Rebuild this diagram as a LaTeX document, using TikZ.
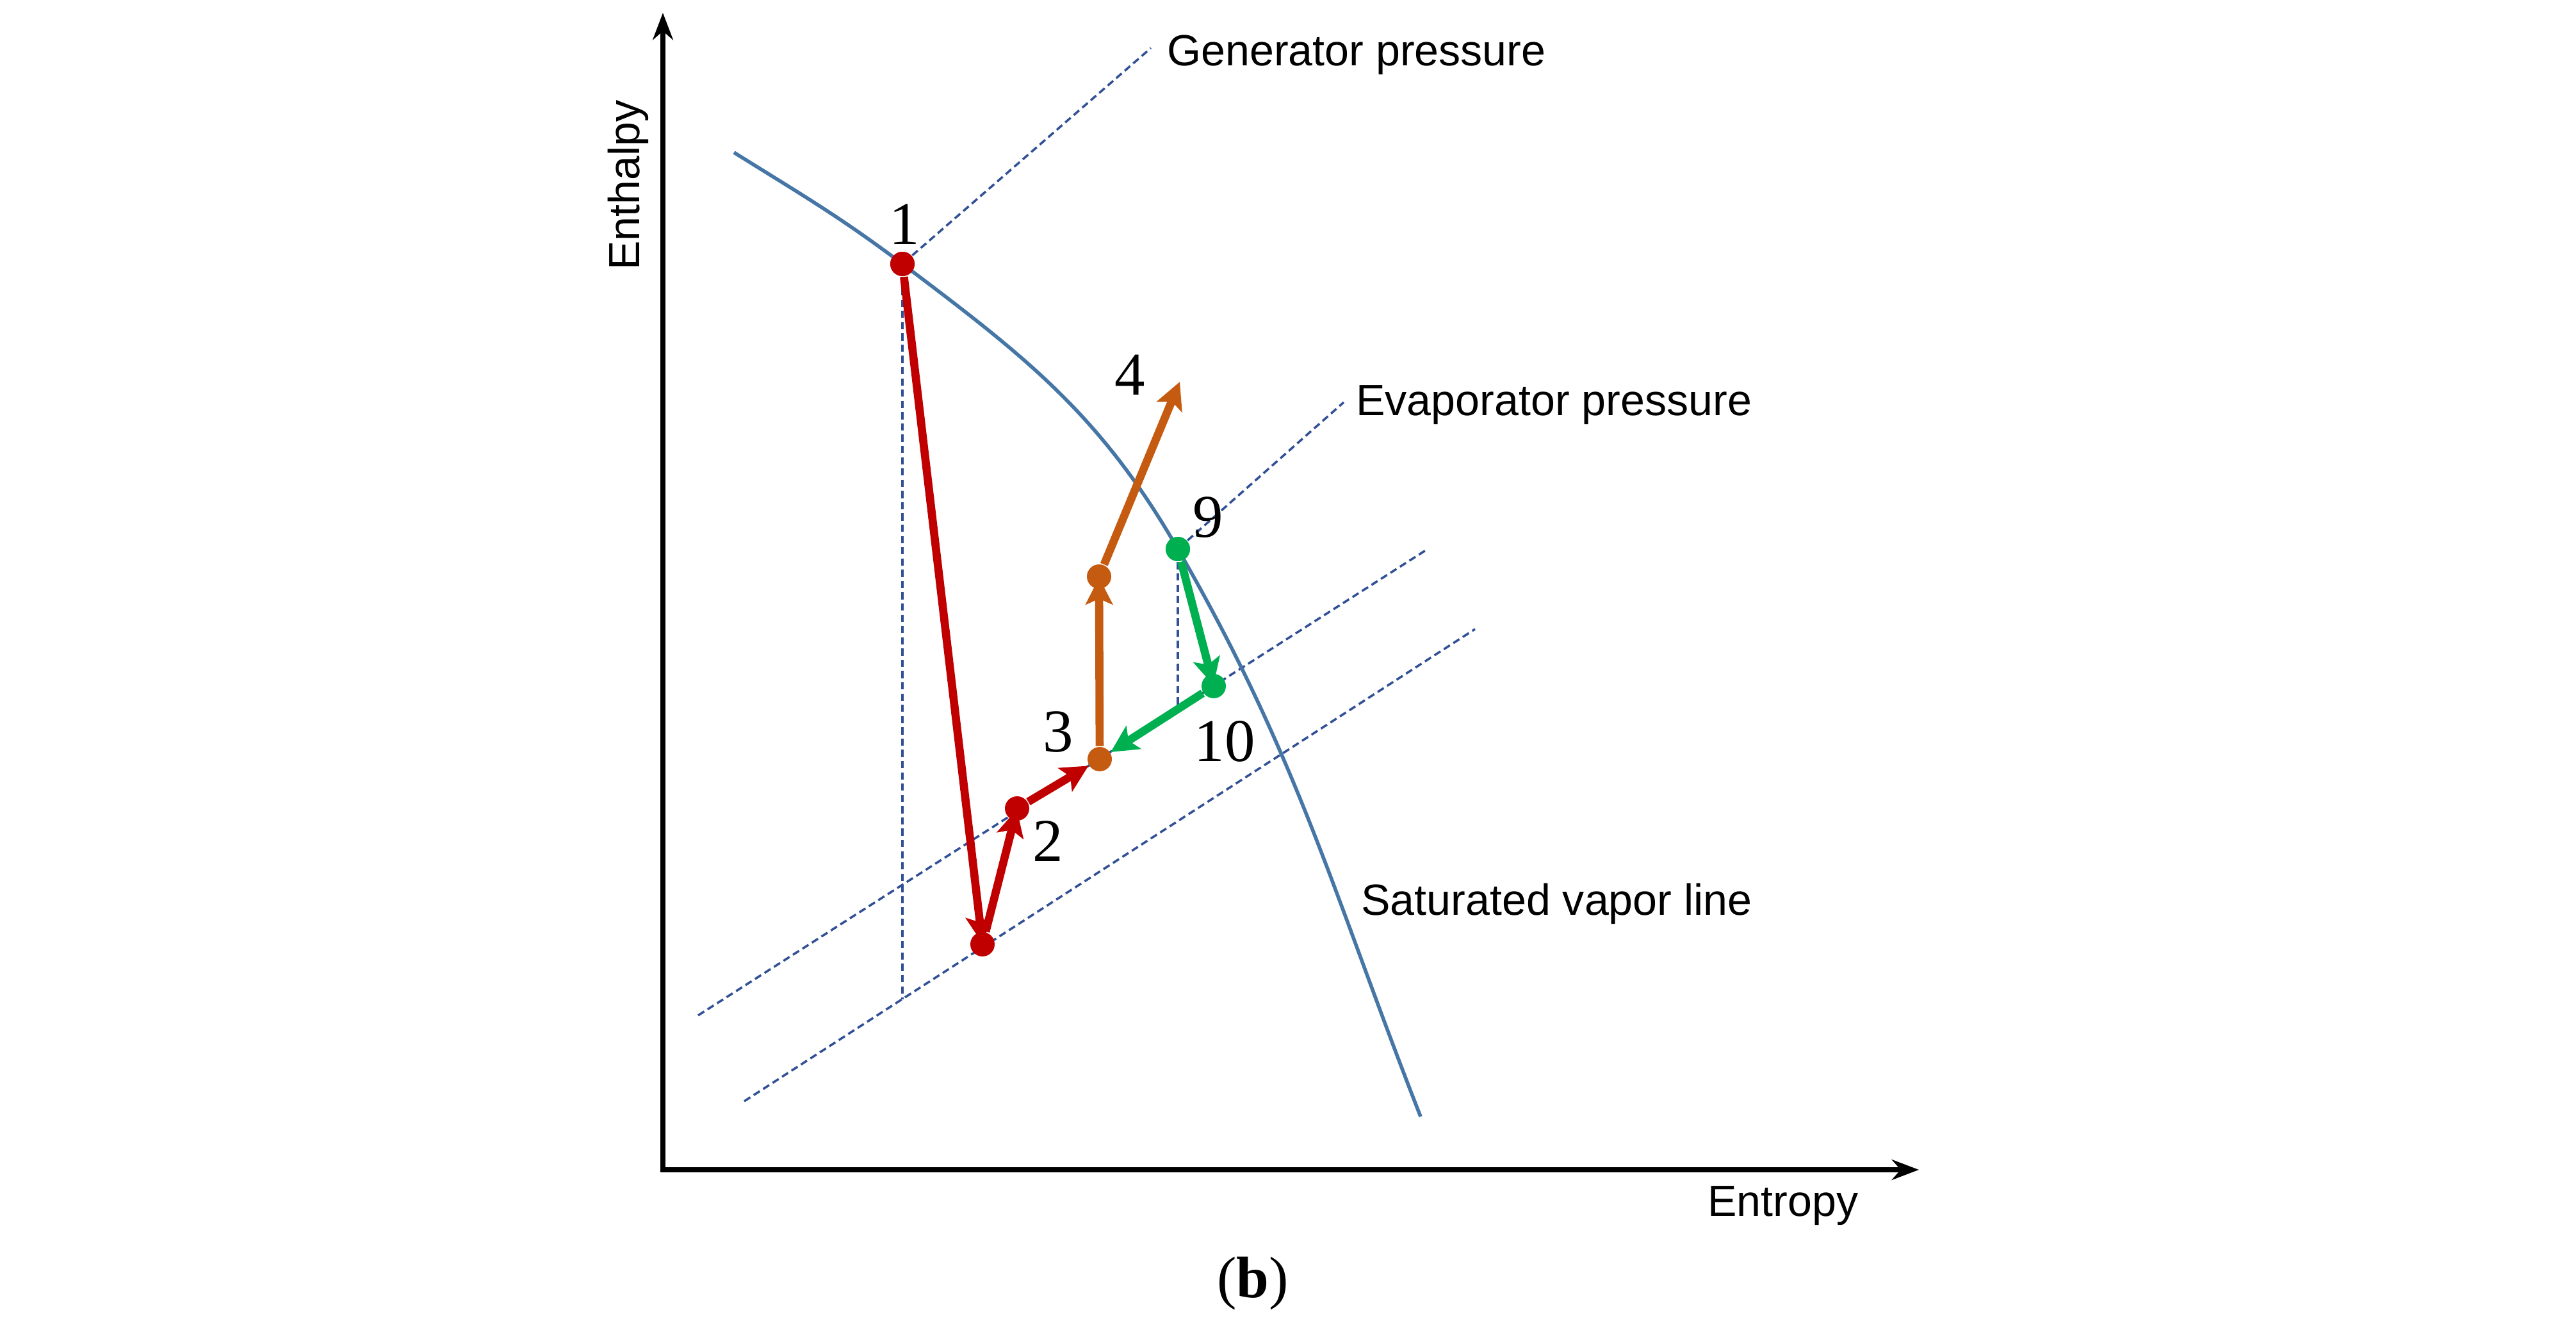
\documentclass[tikz,border=0pt]{standalone}
\usepackage{fontspec}
\setmainfont{Liberation Serif}
\newfontfamily\labelfont{Liberation Sans}
\usetikzlibrary{arrows.meta,positioning}

\definecolor{cyclered}{RGB}{192,0,0}
\definecolor{cycleorange}{RGB}{197,90,17}
\definecolor{cyclegreen}{RGB}{0,176,80}
\definecolor{satblue}{RGB}{70,118,165}
\definecolor{guideblue}{RGB}{50,80,150}

\begin{document}
\begin{tikzpicture}[>={Stealth[length=6pt,width=6pt,inset=1.3pt]},
    every node/.style={inner sep=0pt},
    dot/.style={circle, minimum size=0.19cm},
    flow/.style={line width=1.8pt, ->},
    guide/.style={draw=guideblue, line width=0.5pt, dash pattern=on 1.6pt off 0.9pt},
    num/.style={font=\fontsize{13.5}{16}\selectfont},
    axlabel/.style={font=\labelfont\fontsize{9.7}{11.6}\selectfont}]
  \useasboundingbox (0,0) rectangle (20.11,-10.365);

  % axes
  \coordinate (o) at (5.175,-9.13);
  \coordinate (ytop) at (5.175,-0.1);
  \coordinate (xend) at (14.98,-9.13);
  \draw[line width=1pt, {Stealth[length=6pt,width=4.5pt]}-{Stealth[length=6pt,width=4.5pt]}] (ytop) -- (o) -- (xend);
  \node[axlabel, rotate=90, anchor=base west] (hlab) at (4.99,-2.115) {Enthalpy};
  \node[axlabel, anchor=base west] (slab) at (13.325,-9.49) {Entropy};

  % evaporator pressure lines
  \coordinate (evapa1) at (5.45,-7.925);
  \coordinate (evapa2) at (11.13,-4.295);
  \coordinate (evapb1) at (5.81,-8.595);
  \coordinate (evapb2) at (11.515,-4.91);
  \draw[guide] (evapa1) -- (evapa2);
  \draw[guide] (evapb1) -- (evapb2);

  % state points
  \coordinate (satstart) at (5.73,-1.19);
  \coordinate (satend) at (11.09,-8.715);
  \node[dot, fill=cyclered] (p1) at (7.045,-2.06) {};
  \node[dot, fill=cyclered] (pb) at (7.67,-7.37) {};
  \node[dot, fill=cyclered] (p2) at (7.94,-6.31) {};
  \node[dot, fill=cycleorange] (p3) at (8.585,-5.925) {};
  \node[dot, fill=cycleorange] (pm) at (8.58,-4.50) {};
  \coordinate (p4) at (9.21,-2.98);
  \node[dot, fill=cyclegreen] (p9) at (9.195,-4.285) {};
  \node[dot, fill=cyclegreen] (p10) at (9.475,-5.355) {};

  % saturated vapor line
  \draw[satblue, line width=0.8pt] (satstart) to[out=-32, in=143] (p1.center)
    to[out=-37, in=120] (p9.center) to[out=-60, in=111.4] (satend);
  \node[axlabel, anchor=base west] (satlab) at (10.62,-7.14) {Saturated vapor line};

  % pressure leaders and drop lines
  \coordinate (genend) at (8.985,-0.375);
  \coordinate (evapend) at (10.49,-3.14);
  \coordinate (p1foot) at (7.045,-7.80);
  \coordinate (p9foot) at (9.195,-5.535);
  \draw[guide] (p1) -- (genend);
  \draw[guide] (p9) -- (evapend);
  \draw[guide] (p1.south) -- (p1foot);
  \draw[guide] (p9.south) -- (p9foot);
  \node[axlabel, anchor=base west] (genlab) at (9.105,-0.515) {Generator pressure};
  \node[axlabel, anchor=base west] (evaplab) at (10.58,-3.24) {Evaporator pressure};

  % cycle
  \fill[cyclered] (p1) circle (0.095);
  \fill[cyclegreen] (p9) circle (0.095);
  \draw[flow, cyclered, shorten >=-2.7pt] (p1) -- (pb);
  \draw[flow, cyclered, shorten >=-2.7pt] (pb) -- (p2);
  \draw[flow, cyclered] (p2) -- (p3);
  \draw[flow, cycleorange, shorten >=-2.7pt] (p3) -- (pm);
  \draw[flow, cycleorange] (pm) -- (p4);
  \draw[flow, cyclegreen, shorten >=-2.7pt] (p9) -- (p10);
  \draw[flow, cyclegreen] (p10) -- (p3);

  % labels
  \node[num] (l1) at (7.06,-1.75) {1};
  \node[num] (l2) at (8.18,-6.565) {2};
  \node[num] (l3) at (8.26,-5.715) {3};
  \node[num] (l4) at (8.82,-2.925) {4};
  \node[num] (l9) at (9.43,-4.04) {9};
  \node[num] (l10) at (9.56,-5.785) {10};
  \node[font=\fontsize{13}{15}\selectfont] (cap) at (9.78,-10.02) {(\textbf{b})};
\end{tikzpicture}
\end{document}
